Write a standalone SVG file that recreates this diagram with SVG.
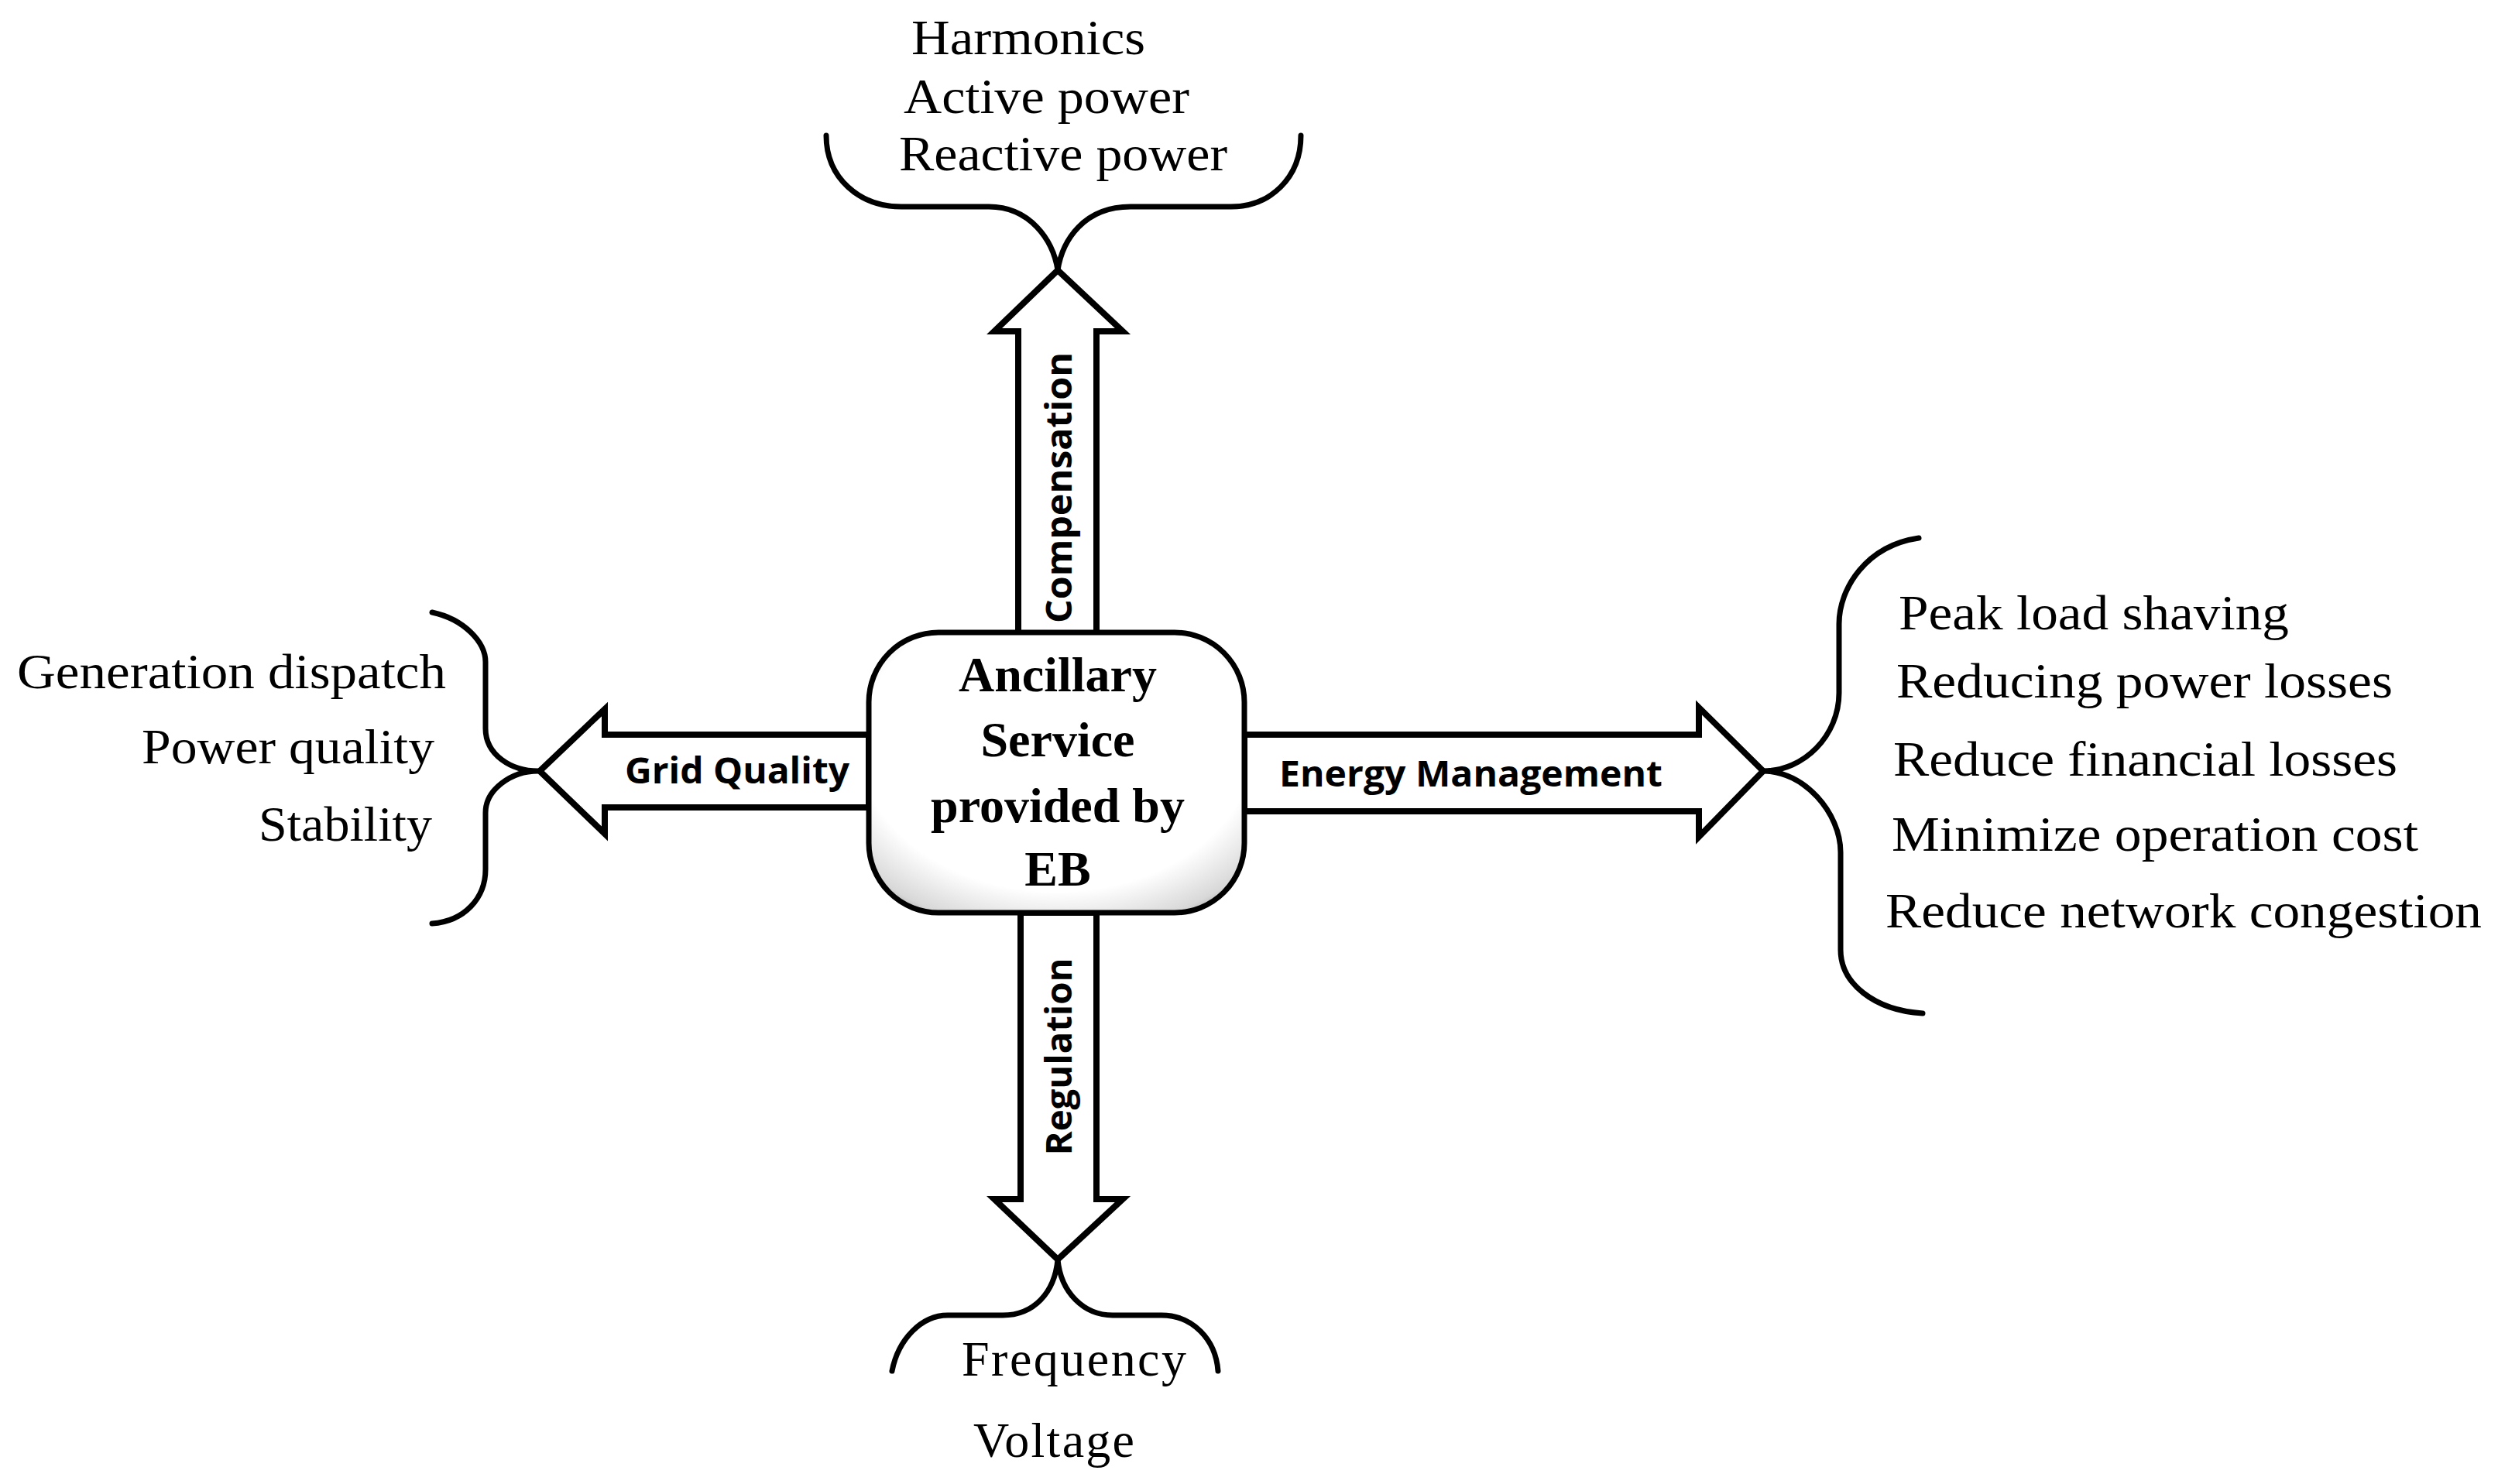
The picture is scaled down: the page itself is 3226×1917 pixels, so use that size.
<svg xmlns="http://www.w3.org/2000/svg" width="3226" height="1917" viewBox="0 0 3226 1917">
<style>
.ln{fill:none;stroke:#000;stroke-width:7;stroke-linejoin:round;stroke-linecap:round}
.ar{fill:#fff;stroke:#000;stroke-width:8;stroke-linejoin:miter}
.t{font-family:"Liberation Serif","Times New Roman",serif;font-size:64px;fill:#000}
.b{font-family:"Liberation Serif","Times New Roman",serif;font-size:64px;font-weight:bold;fill:#000;text-anchor:middle}
.s{font-family:"Open Sans","Liberation Sans",sans-serif;font-size:46px;font-weight:bold;fill:#000}
</style>
<defs>
<radialGradient id="g" cx="0.5" cy="0.4" r="0.75">
<stop offset="0.7" stop-color="#fff"/>
<stop offset="0.9" stop-color="#d8d8d8"/>
<stop offset="1" stop-color="#888"/>
</radialGradient>
</defs>
<g id="connectors">
<polygon class="ar" points="1315,818 1315,428 1284,428 1366,349 1450,428 1416,428 1416,818"/>
<polygon class="ar" points="1122,949 781,949 781,916 697,996 781,1077 781,1043 1122,1043"/>
<polygon class="ar" points="1607,949 2194,949 2194,914 2277,996 2194,1081 2194,1048 1607,1048"/>
<polygon class="ar" points="1318,1179 1318,1549 1284,1549 1366,1627 1450,1549 1416,1549 1416,1179"/>
<text class="s" transform="translate(1384,630) rotate(-90)" text-anchor="middle" textLength="350" lengthAdjust="spacingAndGlyphs">Compensation</text>
<text class="s" transform="translate(1384,1365) rotate(-90)" text-anchor="middle" textLength="255" lengthAdjust="spacingAndGlyphs">Regulation</text>
<text class="s" x="807" y="1012" textLength="290" lengthAdjust="spacingAndGlyphs">Grid Quality</text>
<text class="s" x="1652" y="1016" textLength="495" lengthAdjust="spacingAndGlyphs">Energy Management</text>
</g>
<g id="center">
<rect x="1122" y="817" width="485" height="362" rx="90" fill="url(#g)" stroke="#000" stroke-width="7"/>
<text class="b" x="1366" y="893">Ancillary</text>
<text class="b" x="1366" y="977">Service</text>
<text class="b" x="1366" y="1062">provided by</text>
<text class="b" x="1366" y="1144">EB</text>
</g>
<g id="top">
<path class="ln" d="M1067,175 C1067,230 1110,267 1164,267 L1277,267 C1330,267 1360,310 1366,349 C1372,310 1400,267 1460,267 L1590,267 C1640,267 1680,230 1680,175"/>
<text class="t" x="1177" y="70" textLength="302" lengthAdjust="spacingAndGlyphs">Harmonics</text>
<text class="t" x="1167" y="146" textLength="369" lengthAdjust="spacingAndGlyphs">Active power</text>
<text class="t" x="1161" y="220" textLength="424" lengthAdjust="spacingAndGlyphs">Reactive power</text>
</g>
<g id="left">
<path class="ln" d="M558,791 C600,800 627,830 627,855 L627,941 C627,975 660,996 695,996 C660,996 627,1020 627,1050 L627,1123 C627,1160 600,1190 558,1193"/>
<text class="t" x="22" y="889" textLength="554" lengthAdjust="spacingAndGlyphs">Generation dispatch</text>
<text class="t" x="183" y="986" textLength="378" lengthAdjust="spacingAndGlyphs">Power quality</text>
<text class="t" x="334" y="1086" textLength="224" lengthAdjust="spacingAndGlyphs">Stability</text>
</g>
<g id="right">
<path class="ln" d="M2478,695 C2410,705 2375,760 2375,806 L2375,895 C2375,950 2330,996 2277,996 C2330,996 2377,1050 2377,1101 L2377,1227 C2377,1270 2420,1305 2483,1309"/>
<text class="t" x="2452" y="813" textLength="504" lengthAdjust="spacingAndGlyphs">Peak load shaving</text>
<text class="t" x="2449" y="901" textLength="641" lengthAdjust="spacingAndGlyphs">Reducing power losses</text>
<text class="t" x="2445" y="1002" textLength="651" lengthAdjust="spacingAndGlyphs">Reduce financial losses</text>
<text class="t" x="2443" y="1099" textLength="680" lengthAdjust="spacingAndGlyphs">Minimize operation cost</text>
<text class="t" x="2435" y="1198" textLength="770" lengthAdjust="spacingAndGlyphs">Reduce network congestion</text>
</g>
<g id="bottom">
<path class="ln" d="M1152,1771 C1160,1730 1190,1699 1224,1699 L1295,1699 C1335,1699 1362,1670 1366,1627 C1370,1670 1400,1699 1437,1699 L1500,1699 C1540,1699 1570,1730 1573,1771"/>
<text class="t" x="1242" y="1777" textLength="290" lengthAdjust="spacing">Frequency</text>
<text class="t" x="1257" y="1882" textLength="208" lengthAdjust="spacing">Voltage</text>
</g>
</svg>
